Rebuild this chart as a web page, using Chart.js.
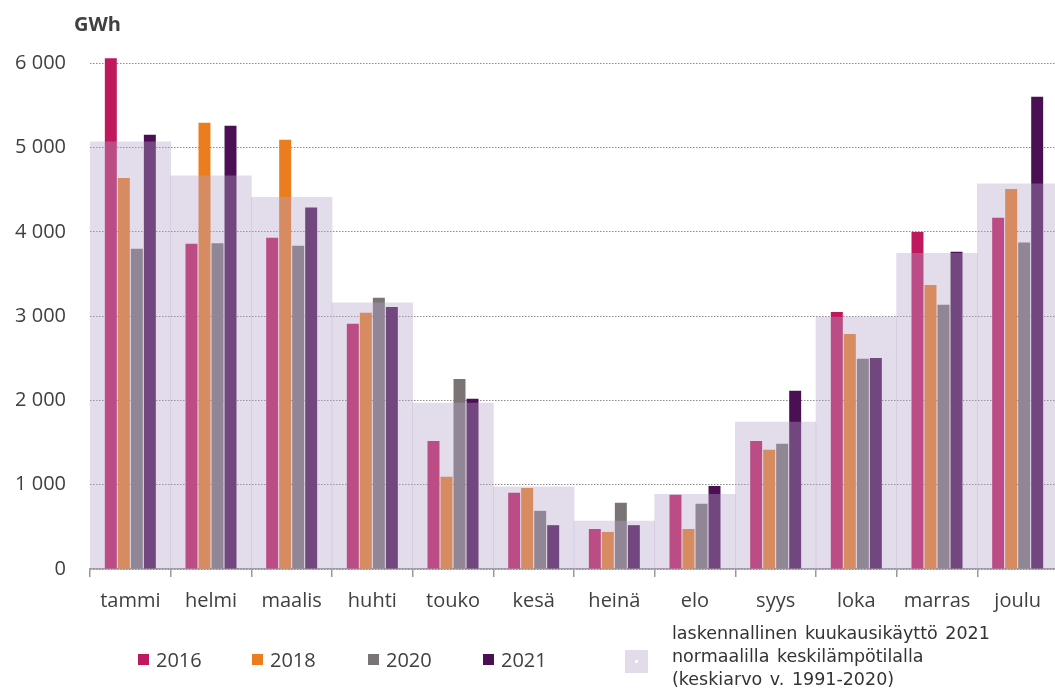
<!DOCTYPE html>
<html lang="fi">
<head>
<meta charset="utf-8">
<script src="https://cdn.jsdelivr.net/npm/chart.js@4.4.1/dist/chart.umd.min.js"></script>
<style>
  html, body { margin: 0; padding: 0; background: #fff; overflow: hidden; }
  #wrap { position: relative; width: 1058px; height: 689px; }
  #unit { position: absolute; left: 74px; top: 10px; font: bold 20px "Open Sans", sans-serif; color: #404040; }
  #legend { position: absolute; left: 0; top: 0; width: 1058px; height: 689px; pointer-events: none;
            font-family: "Open Sans", sans-serif; color: #404040; }
  .item { position: absolute; display: flex; align-items: center; font-size: 20px; }
  .box { width: 11px; height: 11px; margin-right: 7px; }
  .big { width: 23px; height: 23px; position: relative; }
  .big::after { content: ""; position: absolute; left: 10px; top: 10px; width: 3px; height: 3px; background: #fff; }
  .long { position: absolute; left: 672px; top: 622px; font: 17.5px/23px "DejaVu Sans", Verdana, sans-serif; color: #333; word-spacing: 2px; }
</style>
</head>
<body>
<div id="wrap">
  <canvas id="chart"></canvas>
  <div id="unit">GWh</div>
  <div id="legend"></div>
</div>
<script>
// months and monthly consumption, GWh
const months = ['tammi', 'helmi', 'maalis', 'huhti', 'touko', 'kesä', 'heinä', 'elo', 'syys', 'loka', 'marras', 'joulu'];
const y2016 = [6060, 3860, 3930, 2910, 1520, 905, 475, 880, 1520, 3050, 4000, 4170];
const y2018 = [4640, 5295, 5095, 3040, 1095, 960, 440, 475, 1415, 2790, 3370, 4510];
const y2020 = [3800, 3865, 3835, 3220, 2255, 690, 785, 775, 1485, 2495, 3135, 3875];
const y2021 = [5155, 5260, 4290, 3110, 2020, 520, 520, 985, 2115, 2505, 3765, 5605];
// laskennallinen kuukausikäyttö normaalilla lämpötilalla
const normal = [5070, 4665, 4410, 3160, 1970, 975, 570, 885, 1745, 2990, 3745, 4570];
const yTicks = [0, 1000, 2000, 3000, 4000, 5000, 6000];

const normalLabel = ['laskennallinen kuukausikäyttö 2021', 'normaalilla keskilämpötilalla', '(keskiarvo v. 1991-2020)'];
const years = [
  { label: '2016', data: y2016, color: '#c0185c' },
  { label: '2018', data: y2018, color: '#ec7d1f' },
  { label: '2020', data: y2020, color: '#7b7475' },
  { label: '2021', data: y2021, color: '#4b0f53' }
];

const fmt = v => String(v).replace(/\B(?=(\d{3})+(?!\d))/g, ' ');

const datasets = [{
  label: normalLabel.join(' '),
  data: normal,
  backgroundColor: 'rgba(179, 163, 203, 0.38)',
  grouped: false,
  categoryPercentage: 1,
  barPercentage: 1
}];
years.forEach(y => {
  datasets.push({
    label: y.label,
    data: y.data,
    backgroundColor: y.color,
    categoryPercentage: 0.645,
    barPercentage: 0.92
  });
});

new Chart(document.getElementById('chart'), {
  type: 'bar',
  data: { labels: months, datasets: datasets },
  options: {
    responsive: true,
    maintainAspectRatio: false,
    animation: false,
    layout: { padding: { top: 55, right: 0, bottom: 0, left: 0 } },
    plugins: { legend: { display: false }, tooltip: { enabled: false } },
    scales: {
      x: {
        afterFit: s => { s.height = 120; },
        grid: { offset: true, drawOnChartArea: false, drawTicks: true, tickLength: 8, color: '#9a9a9a', lineWidth: 1.5 },
        border: { display: true, color: '#9a9a9a', width: 1.5 },
        ticks: { color: '#404040', font: { family: 'Open Sans', size: 20 }, padding: 12 }
      },
      y: {
        min: 0,
        max: 6100,
        afterFit: s => { s.width = 90; },
        afterBuildTicks: s => { s.ticks = yTicks.map(v => ({ value: v })); },
        grid: { drawTicks: false, color: '#8a8a8a', lineWidth: 1 },
        border: { display: false, dash: [1.5, 1.5] },
        ticks: { color: '#404040', font: { family: 'Open Sans', size: 20 }, padding: 24, callback: v => fmt(v) }
      }
    }
  }
});

// legend
const legend = document.getElementById('legend');
const xs = [138, 252, 368, 483];
years.forEach((y, i) => {
  const it = document.createElement('div');
  it.className = 'item';
  it.style.left = xs[i] + 'px';
  it.style.top = '646px';
  it.innerHTML = '<div class="box" style="background:' + y.color + '"></div>' + y.label;
  legend.appendChild(it);
});
const nb = document.createElement('div');
nb.className = 'item';
nb.style.left = '625px';
nb.style.top = '650px';
nb.innerHTML = '<div class="box big" style="background:#e2dcea;margin:0"></div>';
legend.appendChild(nb);
const lt = document.createElement('div');
lt.className = 'long';
lt.innerHTML = normalLabel.join('<br>');
legend.appendChild(lt);
</script>
</body>
</html>
